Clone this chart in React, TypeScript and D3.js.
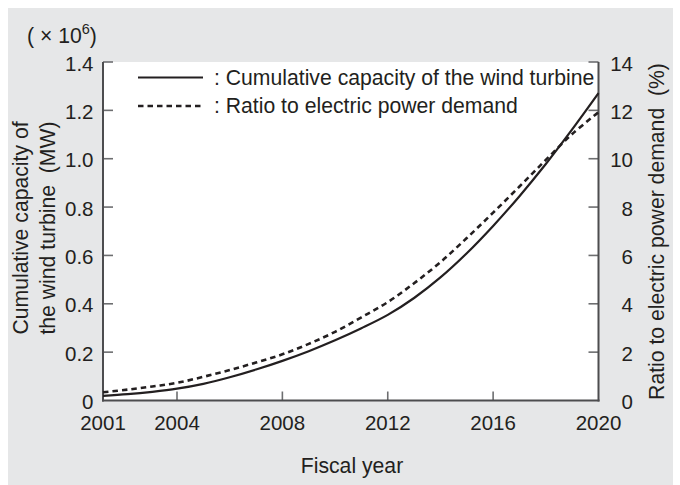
import React from "react";
import * as d3 from "d3";

const years = [2001, 2002, 2003, 2004, 2005, 2006, 2007, 2008, 2009, 2010, 2011, 2012, 2013, 2014, 2015, 2016, 2017, 2018, 2019, 2020];
const capacity = [0.019, 0.026, 0.036, 0.049, 0.069, 0.096, 0.128, 0.164, 0.204, 0.249, 0.299, 0.354, 0.424, 0.509, 0.609, 0.722, 0.845, 0.978, 1.121, 1.271];
const ratio = [0.34, 0.45, 0.58, 0.73, 0.98, 1.26, 1.57, 1.91, 2.34, 2.84, 3.44, 4.07, 4.85, 5.72, 6.72, 7.77, 8.85, 9.95, 11.02, 11.92];
const xTicks = [2001, 2004, 2008, 2012, 2016, 2020];
const yLeftTicks = [0, 0.2, 0.4, 0.6, 0.8, 1.0, 1.2, 1.4];
const yRightTicks = [0, 2, 4, 6, 8, 10, 12, 14];
const legendLabels = [": Cumulative capacity of the wind turbine", ": Ratio to electric power demand"];

const FONT = "'Liberation Sans', Arial, Helvetica, sans-serif";
const INK = "#231f20";
const TICK = "#6d6e70";
const FS = 21.2;
const TFS = 20.5;

export default function App() {
  const L = 103, R = 598.5, T = 62, B = 400.5;
  const x = d3.scaleLinear().domain([2001, 2004, 2020]).range([L, 177, R]);
  const yL = d3.scaleLinear().domain([0, 1.4]).range([B, T]);
  const yR = d3.scaleLinear().domain([0, 14]).range([B, T]);

  const capLine = d3.line<number>().x((_, i) => x(years[i])).y((d) => yL(d)).curve(d3.curveCatmullRom.alpha(0.5));
  const ratLine = d3.line<number>().x((_, i) => x(years[i])).y((d) => yR(d)).curve(d3.curveCatmullRom.alpha(0.5));

  return (
    <svg width={680} height={485} style={{ position: "absolute", left: 0, top: 0 }} fontFamily={FONT}>
      <rect x={8} y={8} width={665} height={477} fill="#e6e7e8" />
      <rect x={L} y={T} width={R - L} height={B - T} fill="#ffffff" />

      {yLeftTicks.filter((t) => t > 0).map((t) => (
        <line key={"lt" + t} x1={L} x2={L + 10} y1={yL(t)} y2={yL(t)} stroke={TICK} strokeWidth={1.6} />
      ))}
      {yRightTicks.filter((t) => t > 0).map((t) => (
        <line key={"rt" + t} x1={R - 10} x2={R} y1={yR(t)} y2={yR(t)} stroke={TICK} strokeWidth={1.6} />
      ))}
      {xTicks.filter((t) => t !== 2001 && t !== 2020).map((t) => (
        <line key={"xt" + t} x1={x(t)} x2={x(t)} y1={B} y2={B - 9} stroke={TICK} strokeWidth={1.6} />
      ))}

      <line x1={L} x2={L} y1={T} y2={B + 1} stroke="#4d4d4f" strokeWidth={2} />
      <line x1={R} x2={R} y1={T} y2={B + 1} stroke="#4d4d4f" strokeWidth={2} />
      <line x1={L - 1} x2={R + 1} y1={B} y2={B} stroke="#4d4d4f" strokeWidth={2} />

      {yLeftTicks.map((t) => (
        <text key={"ll" + t} x={93.5} y={yL(t) + 1.5} dy="0.35em" textAnchor="end" fontSize={TFS} fill={INK}>
          {t === 0 ? "0" : t.toFixed(1)}
        </text>
      ))}
      {yRightTicks.map((t) => (
        <text key={"rl" + t} x={633} y={yR(t) + 1.5} dy="0.35em" textAnchor="end" fontSize={TFS} fill={INK}>
          {t}
        </text>
      ))}
      {xTicks.map((t) => (
        <text key={"xl" + t} x={x(t)} y={430} textAnchor="middle" fontSize={TFS} fill={INK}>
          {t}
        </text>
      ))}

      <path d={capLine(capacity) || ""} fill="none" stroke={INK} strokeWidth={2.2} />
      <path d={ratLine(ratio) || ""} fill="none" stroke={INK} strokeWidth={2.6} strokeDasharray="5.5,4" />

      <line x1={138} x2={203} y1={77.5} y2={77.5} stroke={INK} strokeWidth={2.2} />
      <text x={214} y={77.5} dy="0.35em" fontSize={FS} fill={INK}>{legendLabels[0]}</text>
      <line x1={138} x2={203} y1={106} y2={106} stroke={INK} strokeWidth={2.6} strokeDasharray="5.5,4" />
      <text x={214} y={106} dy="0.35em" fontSize={FS} fill={INK}>{legendLabels[1]}</text>

      <text transform="translate(27.5,228) rotate(-90)" textAnchor="middle" fontSize={FS} fill={INK}>
        Cumulative capacity of
      </text>
      <text transform="translate(54.5,228) rotate(-90)" textAnchor="middle" fontSize={FS} fill={INK} xmlSpace="preserve">
        the wind turbine  (MW)
      </text>
      <text transform="translate(664,231.5) rotate(-90)" textAnchor="middle" fontSize={FS} fill={INK} xmlSpace="preserve">
        Ratio to electric power demand  (%)
      </text>
      <text x={352} y={473} textAnchor="middle" fontSize={FS} fill={INK}>Fiscal year</text>

      <text x={27} y={42.5} fontSize={FS} fill={INK} xmlSpace="preserve">
        ( × 10<tspan fontSize={14.5} dy={-9}>6</tspan><tspan dy={9}>)</tspan>
      </text>
    </svg>
  );
}
